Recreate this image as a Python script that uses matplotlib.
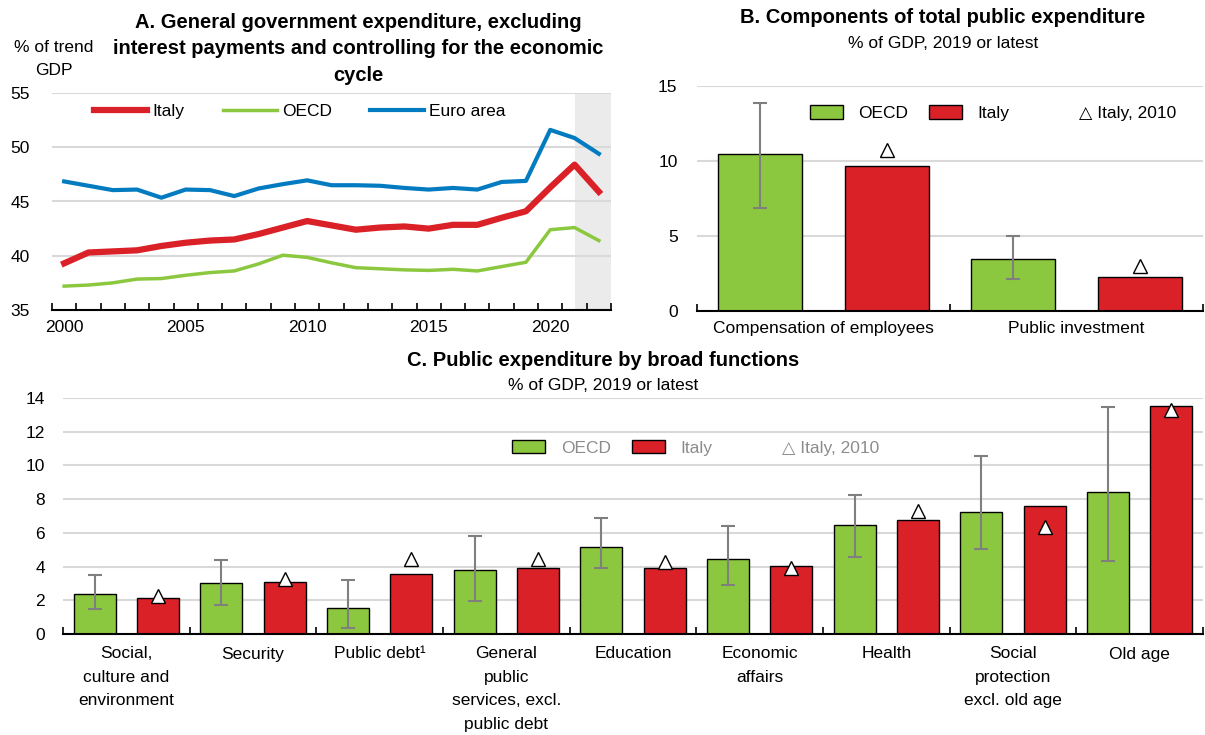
import matplotlib
matplotlib.use("Agg")
import matplotlib.pyplot as plt
from matplotlib import font_manager
from matplotlib.patches import Patch
from matplotlib.lines import Line2D
import numpy as np

# ---- data ----
years = list(range(2000, 2023))
italy = [39.3, 40.3, 40.4, 40.5, 40.9, 41.2, 41.4, 41.5, 42.0, 42.6, 43.2, 42.8, 42.4,
         42.6, 42.7, 42.5, 42.85, 42.85, 43.5, 44.1, 46.3, 48.4, 45.9]
oecd = [37.2, 37.3, 37.5, 37.85, 37.9, 38.2, 38.45, 38.6, 39.25, 40.05, 39.85, 39.35, 38.9,
        38.8, 38.7, 38.65, 38.75, 38.6, 39.0, 39.4, 42.4, 42.6, 41.4]
euro = [46.85, 46.45, 46.05, 46.1, 45.35, 46.1, 46.05, 45.5, 46.2, 46.6, 46.95, 46.5, 46.5,
        46.45, 46.25, 46.1, 46.25, 46.1, 46.8, 46.9, 51.6, 50.85, 49.4]
proj_start = 2021

comp_cats = ["Compensation of employees", "Public investment"]
comp_oecd = [10.47, 3.48]
comp_oecd_hi = [13.88, 5.0]
comp_oecd_lo = [6.85, 2.15]
comp_italy = [9.67, 2.28]
comp_italy2010 = [10.75, 3.0]

func_cats = ["Social,\nculture and\nenvironment", "Security", "Public debt\u00b9",
             "General\npublic\nservices, excl.\npublic debt", "Education", "Economic\naffairs",
             "Health", "Social\nprotection\nexcl. old age", "Old age"]
func_oecd = [2.38, 3.05, 1.57, 3.78, 5.18, 4.43, 6.44, 7.26, 8.43]
func_oecd_hi = [3.52, 4.41, 3.19, 5.83, 6.9, 6.4, 8.27, 10.53, 13.46]
func_oecd_lo = [1.5, 1.75, 0.35, 1.95, 3.92, 2.93, 4.59, 5.04, 4.31]
func_italy = [2.13, 3.07, 3.54, 3.9, 3.9, 4.04, 6.79, 7.6, 13.54]
func_italy2010 = [2.24, 3.29, 4.47, 4.45, 4.3, 3.92, 7.32, 6.32, 13.27]

# ---- style ----
installed = {f.name for f in font_manager.fontManager.ttflist}
fam = [f for f in ["Liberation Sans Narrow", "Liberation Sans"] if f in installed] + ["DejaVu Sans"]
plt.rcParams["font.family"] = fam
FS = 12.5

RED = "#DA2128"
GREEN = "#8CC83F"
BLUE = "#037BC1"
GRID = "#D9D9D9"
ERR = "#7F7F7F"

fig = plt.figure(figsize=(12.05, 7.35), dpi=100)
W, H = 1205, 735


def px_axes(left, top, right, bottom):
    return fig.add_axes([left / W, 1 - bottom / H, (right - left) / W, (bottom - top) / H])


def base_style(ax, ypad):
    for s in ["top", "right", "left"]:
        ax.spines[s].set_visible(False)
    ax.spines["bottom"].set_linewidth(1.5)
    ax.yaxis.grid(True, color=GRID, lw=1.5)
    ax.set_axisbelow(True)
    ax.tick_params(axis="y", length=0, labelsize=FS, pad=ypad)


def bar_legend(ax, anchor, color):
    h = [Patch(facecolor=GREEN, edgecolor="black"), Patch(facecolor=RED, edgecolor="black"),
         Line2D([], [], ls="none")]
    leg = ax.legend(h, ["OECD", "Italy", "\u25b3 Italy, 2010"], loc="center", ncol=3,
                    frameon=False, bbox_to_anchor=anchor, handlelength=1.9, handleheight=0.85,
                    handletextpad=0.9, columnspacing=1.2, prop={"family": fam, "size": FS})
    for t in leg.get_texts():
        t.set_color(color)
    return leg


# ---- panel A ----
axA = px_axes(52, 93, 611, 310)
base_style(axA, 16)
x = np.array(years)
axA.axvspan(proj_start, years[-1] + 0.5, color="#EBEBEB", zorder=0, lw=0)
axA.plot(x, euro, color=BLUE, lw=3)
axA.plot(x, oecd, color=GREEN, lw=2.5)
axA.plot(x, italy, color=RED, lw=4.5)
axA.set_xlim(years[0] - 0.5, years[-1] + 0.5)
axA.set_ylim(35, 55)
axA.set_yticks([35, 40, 45, 50, 55])
axA.set_xticks([2000, 2005, 2010, 2015, 2020])
axA.set_xticks(np.arange(years[0] - 0.5, years[-1] + 1, 1), minor=True)
axA.tick_params(axis="x", which="major", length=0, labelsize=FS, pad=7)
axA.tick_params(axis="x", which="minor", direction="in", length=5, width=1.2)
handles = [Line2D([], [], color=RED, lw=4.5), Line2D([], [], color=GREEN, lw=2.5),
           Line2D([], [], color=BLUE, lw=3)]
axA.legend(handles, ["Italy", "OECD", "Euro area"], loc="center left", ncol=3, frameon=False,
           bbox_to_anchor=(0.062, 0.915), handlelength=3.1, handletextpad=0.3, columnspacing=2.2,
           fontsize=FS, borderaxespad=0)
fig.text(358 / W, 1 - 13 / H,
         "A. General government expenditure, excluding\ninterest payments and controlling for the economic\ncycle",
         ha="center", va="top", fontsize=14.5, fontweight="bold", linespacing=1.5)
fig.text(54 / W, 1 - 40 / H, "% of trend\nGDP", ha="center", va="top", fontsize=FS, linespacing=1.7)

# ---- panel B ----
axB = px_axes(697, 86, 1203, 311)
base_style(axB, 14)
xb = np.arange(len(comp_cats))
bw = 1 / 3
axB.bar(xb - 0.25, comp_oecd, bw, color=GREEN, edgecolor="black", lw=1)
axB.bar(xb + 0.25, comp_italy, bw, color=RED, edgecolor="black", lw=1)
axB.errorbar(xb - 0.25, comp_oecd,
             yerr=[np.array(comp_oecd) - np.array(comp_oecd_lo), np.array(comp_oecd_hi) - np.array(comp_oecd)],
             fmt="none", ecolor=ERR, elinewidth=1.5, capsize=5, capthick=1.5)
axB.plot(xb + 0.25, comp_italy2010, ls="none", marker="^", ms=10.5, mfc="white", mec="black", mew=1)
axB.set_xlim(-0.5, len(comp_cats) - 0.5)
axB.set_ylim(0, 15)
axB.set_yticks([0, 5, 10, 15])
axB.set_xticks(xb)
axB.set_xticklabels(comp_cats)
axB.set_xticks(np.arange(-0.5, len(comp_cats), 1), minor=True)
axB.tick_params(axis="x", which="major", length=0, labelsize=FS, pad=7)
axB.tick_params(axis="x", which="minor", direction="in", length=5, width=1.2)
bar_legend(axB, (0.585, 0.88), "black")
fig.text(943 / W, 1 - 8 / H, "B. Components of total public expenditure", ha="center", va="top",
         fontsize=14.5, fontweight="bold")
fig.text(943 / W, 1 - 36 / H, "% of GDP, 2019 or latest", ha="center", va="top", fontsize=12.5)

# ---- panel C ----
axC = px_axes(63, 398, 1203, 634)
base_style(axC, 13)
xc = np.arange(len(func_cats))
axC.bar(xc - 0.25, func_oecd, bw, color=GREEN, edgecolor="black", lw=1)
axC.bar(xc + 0.25, func_italy, bw, color=RED, edgecolor="black", lw=1)
axC.errorbar(xc - 0.25, func_oecd,
             yerr=[np.array(func_oecd) - np.array(func_oecd_lo), np.array(func_oecd_hi) - np.array(func_oecd)],
             fmt="none", ecolor=ERR, elinewidth=1.5, capsize=5, capthick=1.5)
axC.plot(xc + 0.25, func_italy2010, ls="none", marker="^", ms=10.5, mfc="white", mec="black", mew=1)
axC.set_xlim(-0.5, len(func_cats) - 0.5)
axC.set_ylim(0, 14)
axC.set_yticks(np.arange(0, 15, 2))
axC.set_xticks(xc)
axC.set_xticklabels(func_cats, linespacing=1.7)
axC.set_xticks(np.arange(-0.5, len(func_cats), 1), minor=True)
axC.tick_params(axis="x", which="major", length=0, labelsize=FS, pad=9)
axC.tick_params(axis="x", which="minor", direction="in", length=5, width=1.2)
bar_legend(axC, (0.555, 0.79), "#8C8C8C")
fig.text(603 / W, 1 - 351 / H, "C. Public expenditure by broad functions", ha="center", va="top",
         fontsize=14.5, fontweight="bold")
fig.text(603 / W, 1 - 378 / H, "% of GDP, 2019 or latest", ha="center", va="top", fontsize=12.5)

fig.savefig("out.png", dpi=100)
